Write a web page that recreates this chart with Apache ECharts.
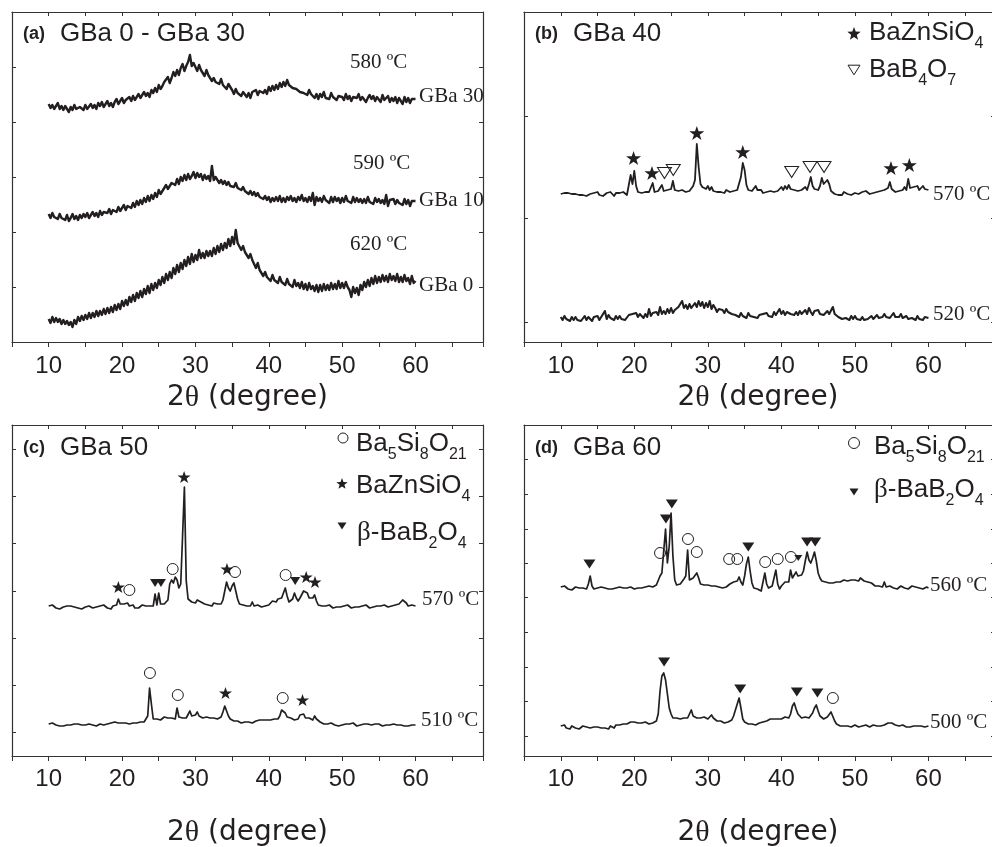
<!DOCTYPE html>
<html>
<head>
<meta charset="utf-8">
<script src="https://cdn.jsdelivr.net/npm/echarts@6.0.0/dist/echarts.min.js"></script>
<style>
  html, body { margin: 0; padding: 0; background: #fff; }
  #root { width: 992px; height: 847px; }
</style>
</head>
<body>
<div id="root"></div>
<script>
// XRD traces. Intensity is in arbitrary units (offset per trace),
// every trace sampled from 10 to 60 deg in steps of 0.25 deg
const thetaStart = 10
const thetaStep = 0.25

// (a) GBa 0 - GBa 30
const gba30 = [
  238,234,237,233, 236,239,233,236, 232,236,234,230, 235,232,237,233, 231,235,236,232,
  237,233,235,238, 234,237,233,239, 236,240,235,238, 241,236,239,235, 240,243,238,241,
  244,239,242,240, 245,241,246,242, 243,248,244,247, 250,246,249,245, 252,249,254,250,
  257,253,256,260, 261,265,259,264, 270,266,272,267, 274,278,271,276, 280,287,276,279,
  275,271,277,272, 270,266,272,267, 266,261,264,260, 262,258,263,257, 257,253,258,255,
  252,248,253,249, 251,246,250,248, 245,249,244,250, 248,252,247,251, 253,249,252,248,
  255,251,256,252, 257,253,259,255, 260,256,262,257, 258,254,256,253, 254,250,252,249,
  251,247,252,248, 247,244,248,243, 248,245,250,244, 246,243,249,245, 247,242,246,244,
  245,242,248,243, 246,241,245,243, 244,248,242,245, 246,240,244,247, 243,246,241,245,
  244,240,247,242, 243,246,240,244, 241,245,239,244, 242,238,245,240, 244,239,243,241,
  243
]
const gba10 = [
  128,124,129,125, 127,123,128,124, 126,122,127,121, 124,128,123,126, 122,127,124,128,
  125,129,124,127, 130,126,129,125, 131,127,130,128, 129,133,128,132, 134,130,135,131,
  133,137,132,136, 138,134,139,135, 141,137,142,138, 144,140,146,141, 147,143,149,145,
  152,148,151,154, 157,153,156,159, 161,157,163,158, 165,161,167,162, 168,163,166,170,
  164,169,165,168, 162,167,163,166, 161,176,162,165, 163,159,162,158, 161,157,160,156,
  158,155,159,154, 156,152,155,151, 152,148,151,147, 150,146,149,145, 147,143,146,142,
  145,140,144,141, 145,141,146,140, 144,140,145,142, 146,141,144,140, 145,142,147,141,
  144,140,145,141, 149,137,145,141, 144,140,146,142, 143,139,145,140, 145,141,144,139,
  144,140,146,141, 143,139,145,140, 144,140,143,139, 143,139,145,140, 142,138,144,140,
  143,139,142,138, 147,136,142,140, 143,138,142,139, 141,137,143,138, 142,136,141,139,
  141
]
const gba0 = [
  23,19,25,20, 24,20,23,18, 22,18,21,17, 20,15,22,18, 25,21,26,22,
  27,23,29,24, 29,25,31,26, 31,27,33,28, 34,29,35,30, 37,32,38,33,
  41,36,42,37, 45,40,47,41, 49,44,51,45, 53,48,56,49, 58,52,59,54,
  62,57,65,59, 68,62,70,64, 74,68,77,70, 79,73,82,76, 85,78,88,80,
  87,82,92,84, 89,84,91,86, 91,86,94,88, 96,90,98,92, 99,94,103,96,
  105,98,112,99, 98,92,96,90, 89,84,88,82, 80,74,79,72, 71,66,70,65,
  66,61,67,62, 64,59,65,60, 62,57,63,58, 60,55,62,56, 59,54,60,53,
  58,52,59,53, 56,51,57,50, 57,51,58,52, 57,52,59,53, 58,53,61,54,
  59,54,60,55, 52,45,55,49, 54,47,57,52, 60,55,62,56, 64,58,66,59,
  65,60,67,61, 66,60,68,62, 66,61,68,60, 65,60,67,61, 64,58,66,59,
  61
]

// (b) GBa 40
const gba40At570 = [
  148,146,149,147, 149,147,148,146, 148,150,147,149, 147,149,146,148, 148,146,149,147,
  150,147,148,146, 148,149,147,150, 148,146,149,147, 149,147,150,148, 147,149,167,158,
  171,156,150,148, 149,147,150,148, 150,152,159,150, 149,151,153,157, 151,150,152,150,
  153,161,152,150, 151,149,152,150, 150,152,151,150, 156,162,198,175, 158,155,157,153,
  156,152,155,151, 153,150,152,150, 151,149,152,150, 150,152,151,153, 152,154,165,179,
  172,157,152,154, 151,153,156,152, 150,152,149,151, 150,148,151,149, 150,152,151,153,
  155,152,156,153, 157,153,155,152, 154,151,153,152, 153,155,152,158, 165,156,153,155,
  152,156,164,158, 156,162,158,151, 150,148,149,147, 149,147,150,148, 148,150,147,149,
  149,151,148,150, 150,148,151,149, 148,150,149,151, 150,148,151,150, 152,150,154,160,
  153,151,150,152, 151,153,152,155, 152,163,154,152, 155,153,156,152, 154,156,153,155,
  152
]
const gba40At520 = [
  25,22,26,23, 24,21,25,22, 25,22,24,21, 23,26,22,25, 24,21,25,23,
  26,22,25,24, 31,23,27,24, 25,22,26,23, 26,23,25,22, 24,27,25,28,
  26,29,25,28, 27,24,28,25, 33,26,29,27, 30,27,35,28, 31,28,33,29,
  34,29,32,30, 35,33,41,34, 37,33,38,34, 36,39,35,41, 36,40,34,39,
  35,41,33,37, 34,30,33,31, 32,29,33,30, 31,28,30,27, 28,25,29,26,
  27,24,29,26, 28,25,27,24, 27,25,28,26, 29,26,28,25, 30,27,29,33,
  28,31,27,30, 32,28,29,27, 30,27,31,28, 29,32,28,34, 30,27,31,29,
  32,28,30,27, 29,31,28,30, 35,28,27,25, 26,23,25,24, 25,22,26,23,
  26,23,25,22, 25,22,24,23, 24,26,23,25, 27,24,26,25, 28,25,27,24,
  26,29,25,27, 25,28,24,26, 26,23,25,24, 25,22,26,23, 24,22,25,23,
  24
]

// (c) GBa 50
const gba50At570 = [
  150,148,151,149, 148,150,147,149, 149,147,150,148, 150,148,149,151, 148,150,147,149,
  149,147,150,148, 148,150,149,147, 150,148,151,149, 148,150,147,150, 149,151,157,152,
  150,152,151,153, 150,149,151,148, 150,148,149,151, 149,150,148,150, 151,150,162,151,
  163,152,153,152, 153,156,172,176, 173,179,176,168, 172,220,269,175, 157,156,154,155,
  153,156,157,154, 155,152,153,151, 152,150,153,151, 152,151,152,156, 165,174,168,165,
  170,173,165,157, 152,150,151,149, 150,151,150,154, 150,149,151,150, 149,151,150,152,
  151,153,155,156, 154,157,156,158, 163,168,160,154, 155,157,163,158, 155,158,160,165,
  167,163,158,156, 158,161,155,151, 149,150,148,150, 149,151,150,148, 150,149,151,149,
  148,150,149,151, 150,148,150,149, 151,149,148,150, 149,151,150,148, 150,149,151,150,
  148,150,149,151, 150,149,151,150, 149,151,150,152, 154,156,155,153, 150,149,151,149,
  150
]
const gba50At510 = [
  32,30,33,31, 31,33,30,32, 30,32,31,29, 31,30,32,30, 32,30,31,33,
  31,29,32,30, 31,33,30,32, 32,30,31,33, 32,31,33,32, 34,35,33,32,
  33,31,33,32, 32,34,33,31, 33,32,34,35, 34,36,40,68, 52,37,36,37,
  38,36,37,39, 37,38,36,38, 38,37,48,39, 39,38,40,38, 39,45,40,39,
  41,44,40,39, 38,37,39,37, 38,36,38,37, 37,38,39,44, 50,48,40,37,
  36,35,34,35, 34,33,35,34, 33,34,35,33, 34,35,34,36, 35,36,37,36,
  37,36,38,37, 38,37,40,46, 47,43,39,37, 38,37,36,38, 37,41,43,42,
  38,37,38,37, 36,40,37,35, 34,33,32,33, 32,31,33,32, 31,32,30,32,
  31,33,32,30, 32,31,33,31, 30,32,31,33, 32,30,32,31, 31,33,32,30,
  32,31,30,32, 31,33,31,30, 32,30,31,33, 31,32,30,31, 30,32,31,30,
  31
]

// (d) GBa 60
const gba60At560 = [
  169,167,170,168, 167,169,166,168, 169,167,168,166, 168,170,167,172, 180,170,167,169,
  168,166,169,167, 168,170,167,169, 167,169,168,166, 169,167,168,170, 168,166,169,167,
  167,169,168,170, 168,167,169,168, 170,168,169,171, 171,173,180,183, 205,227,193,210,
  243,200,176,171, 170,172,174,177, 180,206,176,175, 178,180,183,178, 172,170,171,169,
  171,169,170,172, 170,168,169,167, 168,170,169,171, 172,171,174,176, 175,179,174,171,
  180,192,199,185, 173,168,166,167, 166,165,167,183, 172,168,169,170, 169,186,172,167,
  170,172,174,173, 174,186,178,181, 184,180,178,181, 185,195,204,196, 193,198,204,195,
  183,178,175,173, 174,172,173,175, 173,172,174,173, 174,175,176,177, 175,177,176,178,
  176,177,175,178, 177,175,176,174, 175,173,171,170, 169,170,168,169, 174,169,168,170,
  169,168,170,167, 168,170,169,168, 169,167,168,170, 168,169,167,168, 169,167,168,169,
  168
]
const gba60At500 = [
  30,29,31,28, 29,27,30,28, 28,29,27,29, 30,28,29,27, 28,30,29,28,
  29,27,28,30, 28,29,27,30, 30,28,31,29, 31,30,32,33, 32,33,34,35,
  34,35,33,32, 33,32,34,33, 32,34,33,34, 35,42,65,80, 83,76,62,48,
  42,38,37,38, 38,37,39,38, 39,38,42,46, 40,39,38,39, 38,37,39,38,
  37,39,41,38, 36,35,34,35, 34,33,35,34, 34,36,40,46, 52,58,48,37,
  34,33,32,33, 32,33,31,32, 33,32,34,33, 35,36,37,36, 37,38,37,36,
  37,38,39,37, 38,42,50,53, 47,42,40,38, 38,39,37,38, 39,43,48,51,
  45,40,38,37, 38,39,40,44, 46,35,32,31, 30,31,30,29, 30,31,29,30,
  31,30,29,30, 30,29,31,30, 29,30,31,30, 30,31,30,32, 31,32,33,32,
  33,32,31,30, 30,29,31,30, 29,30,29,31, 30,29,30,29, 30,31,29,30,
  30
]

// phase markers: [2theta, height]
const bStar570 = [[19.9, 184], [22.4, 169], [28.5, 209], [34.75, 190], [54.9, 174], [57.4, 177]]
const bOpenTri570 = [[24.1, 169], [25.3, 172], [41.4, 170], [43.9, 175], [45.8, 175]]
const cCircle570 = [[21.0, 166], [26.9, 187], [35.4, 184], [42.3, 181]]
const cStar570 = [[19.5, 169], [28.46, 279], [34.3, 187], [45.1, 179], [46.3, 174]]
const cTri570 = [[24.5, 173], [25.3, 173], [43.6, 175]]
const cCircle510 = [[23.8, 83], [27.6, 61], [41.9, 58]]
const cStar510 = [[34.1, 63], [44.6, 56]]
const dTri560 = [[13.9, 192], [24.3, 237], [25.1, 252], [35.5, 209], [43.5, 214], [44.6, 214]]
const dTriSmall560 = [[42.3, 198]]
const dCircle560 = [[23.5, 203], [27.3, 217], [28.5, 204], [32.9, 197], [34.0, 197], [37.8, 194], [39.5, 197], [41.3, 199]]
const dTri500 = [[24.05, 94], [34.4, 67], [42.1, 64], [44.9, 63]]
const dCircle500 = [[47.0, 58]]

const INK = '#231f20'
const FRAME = '#333'
const SANS = '"Liberation Sans", Arial, sans-serif'
const SERIF = '"Liberation Serif", "Times New Roman", serif'
const STAR = 'path://M50,0L61.8,35.1L98.9,35.1L68.9,56.7L80.3,91.9L50,70.3L19.7,91.9L31.1,56.7L1.1,35.1L38.2,35.1Z'
const DOWN = 'path://M0,0L20,0L10,16Z'

const toPairs = vals => vals.map((v, i) => [thetaStart + i * thetaStep, v])

const chart = echarts.init(document.getElementById('root'), null, { renderer: 'canvas' })

const grids = [
  { left: 12, top: 12, width: 471, height: 330, outerBoundsMode: 'none', containLabel: false },
  { left: 524, top: 12, width: 471, height: 330, outerBoundsMode: 'none', containLabel: false },
  { left: 12, top: 425, width: 471, height: 331, outerBoundsMode: 'none', containLabel: false },
  { left: 524, top: 425, width: 471, height: 331, outerBoundsMode: 'none', containLabel: false }
]

function xAxes (g, max, margin) {
  const line = { onZero: false, lineStyle: { color: FRAME, width: 1.2 } }
  return [
    {
      gridIndex: g, type: 'value', position: 'bottom', min: 5, max: max, interval: 5,
      axisLine: line,
      axisTick: { inside: false, length: 5, lineStyle: { color: FRAME } },
      axisLabel: {
        interval: 0, margin: margin, fontSize: 24, fontFamily: SANS, color: INK,
        formatter: v => (v % 10 === 0 && v <= 60) ? String(v) : ''
      },
      splitLine: { show: false }
    },
    {
      gridIndex: g, type: 'value', position: 'top', min: 5, max: max, interval: 5,
      axisLine: line,
      axisTick: { inside: true, length: 4, lineStyle: { color: FRAME } },
      axisLabel: { show: false },
      splitLine: { show: false }
    }
  ]
}

function yAxes (g, max, ticks) {
  const base = {
    gridIndex: g, type: 'value', min: 0, max: max,
    axisLine: { show: true, onZero: false, lineStyle: { color: FRAME, width: 1.2 } },
    axisTick: { show: true, inside: true, length: 4, customValues: ticks, lineStyle: { color: FRAME } },
    axisLabel: { show: false },
    splitLine: { show: false }
  }
  return [Object.assign({ position: 'left' }, base), Object.assign({ position: 'right' }, base)]
}

function trace (g, vals, width) {
  return {
    type: 'line', xAxisIndex: 2 * g, yAxisIndex: 2 * g, data: toPairs(vals),
    showSymbol: false, silent: true, animation: false,
    lineStyle: { color: INK, width: width, join: 'round' }, z: 2
  }
}

function marks (g, pts, symbol, size, open) {
  return {
    type: 'scatter', xAxisIndex: 2 * g, yAxisIndex: 2 * g, data: pts,
    symbol: symbol, symbolSize: size, silent: true, animation: false, z: 3,
    itemStyle: open
      ? { color: 'transparent', borderColor: INK, borderWidth: 1, opacity: 1 }
      : { color: INK, opacity: 1 }
  }
}

// text helpers (pieces placed side by side, for sub-scripts)
const measure = document.createElement('canvas').getContext('2d')
function textWidth (t, font) {
  measure.font = font
  return measure.measureText(t).width
}
function label (t, font, x, y, align) {
  return {
    type: 'text', x: x, y: y, silent: true,
    style: { text: t, font: font, fill: INK, textAlign: align || 'left', textVerticalAlign: 'middle' }
  }
}
function row (parts, x, y, center) {
  let cx = x
  if (center) cx = x - parts.reduce((s, p) => s + textWidth(p[0], p[1]), 0) / 2
  return parts.map(p => {
    const el = label(p[0], p[1], cx, y + (p[2] || 0))
    cx += textWidth(p[0], p[1])
    return el
  })
}

const big = '26px ' + SANS
const sub = '16px ' + SANS
const beta = '27px ' + SERIF
const tag = 'bold 18px ' + SANS
const temp = '21px ' + SERIF
const axisFont = '28px "DejaVu Sans", sans-serif'
const thetaFont = '30px ' + SERIF
const SUB = 11

const ba5 = [['Ba', big], ['5', sub, SUB], ['Si', big], ['8', sub, SUB], ['O', big], ['21', sub, SUB]]
const bazn = [['BaZnSiO', big], ['4', sub, SUB]]
const bab2 = [['β', beta], ['-BaB', big], ['2', sub, SUB], ['O', big], ['4', sub, SUB]]
const bab4 = [['BaB', big], ['4', sub, SUB], ['O', big], ['7', sub, SUB]]
const axisTitle = [['2', axisFont], ['θ', thetaFont], [' (degree)', axisFont]]

// legend glyphs
function starShape (cx, cy, r) {
  const pts = []
  for (let i = 0; i < 10; i++) {
    const a = -Math.PI / 2 + i * Math.PI / 5
    const rr = i % 2 === 0 ? r : r * 0.42
    pts.push([cx + rr * Math.cos(a), cy + rr * Math.sin(a)])
  }
  return { type: 'polygon', silent: true, shape: { points: pts }, style: { fill: INK } }
}
function triShape (cx, cy, w, open) {
  const h = w * 0.8
  return {
    type: 'polygon', silent: true,
    shape: { points: [[cx - w / 2, cy - h / 2], [cx + w / 2, cy - h / 2], [cx, cy + h / 2]] },
    style: open ? { fill: 'none', stroke: INK, lineWidth: 1 } : { fill: INK }
  }
}
function ring (cx, cy, r) {
  return { type: 'circle', silent: true, shape: { cx: cx, cy: cy, r: r }, style: { fill: 'none', stroke: INK, lineWidth: 1 } }
}

const graphics = [].concat(
  // panel tags
  [label('(a)', tag, 23, 34), label('GBa 0 - GBa 30', big, 60, 34)],
  [label('(b)', tag, 535, 34), label('GBa 40', big, 573, 34)],
  [label('(c)', tag, 23, 448), label('GBa 50', big, 60, 448)],
  [label('(d)', tag, 535, 448), label('GBa 60', big, 573, 448)],
  // trace annotations
  [label('580 ºC', temp, 350, 62), label('GBa 30', temp, 419, 96),
    label('590 ºC', temp, 353, 163), label('GBa 10', temp, 419, 200),
    label('620 ºC', temp, 350, 244), label('GBa 0', temp, 419, 285)],
  [label('570 ºC', temp, 933, 194), label('520 ºC', temp, 933, 314)],
  [label('570 ºC', temp, 422, 599), label('510 ºC', temp, 421, 720)],
  [label('560 ºC', temp, 930, 585), label('500 ºC', temp, 930, 722)],
  // legends
  [starShape(854, 34, 7), triShape(854, 70, 12, true)],
  row(bazn, 869, 33), row(bab4, 869, 70),
  [ring(343, 438, 5), starShape(342, 484, 6), triShape(342, 526, 9, false)],
  row(ba5, 356, 444), row(bazn, 356, 486), row(bab2, 357, 533),
  [ring(854, 443, 5.5), triShape(854, 492, 9, false)],
  row(ba5, 874, 447), row(bab2, 874, 490),
  // axis titles
  row(axisTitle, 247.5, 398, true), row(axisTitle, 758, 398, true),
  row(axisTitle, 247.5, 833, true), row(axisTitle, 758, 833, true)
)

const option = {
  animation: false,
  backgroundColor: '#fff',
  grid: grids,
  xAxis: [].concat(xAxes(0, 69.2, 12), xAxes(1, 69.05, 12), xAxes(2, 69.2, 11), xAxes(3, 69.05, 11)),
  yAxis: [].concat(
    yAxes(0, 330, [55, 110, 165, 220, 275]),
    yAxes(1, 330, [20, 124, 226]),
    yAxes(2, 331, [24, 71, 118, 165, 213, 260, 307]),
    yAxes(3, 331, [20, 55, 89, 124, 159, 193, 227, 262, 297])
  ),
  series: [
    trace(0, gba30, 2.4), trace(0, gba10, 2.4), trace(0, gba0, 2.4),
    trace(1, gba40At570, 1.8), trace(1, gba40At520, 2.1),
    trace(2, gba50At570, 1.7), trace(2, gba50At510, 1.7),
    trace(3, gba60At560, 1.7), trace(3, gba60At500, 1.7),
    marks(1, bStar570, STAR, [15, 14], false),
    marks(1, bOpenTri570, DOWN, [14, 11], true),
    marks(2, cCircle570, 'circle', 11, true),
    marks(2, cStar570, STAR, [13, 12], false),
    marks(2, cTri570, DOWN, [10, 8], false),
    marks(2, cCircle510, 'circle', 11, true),
    marks(2, cStar510, STAR, [13, 12], false),
    marks(3, dTri560, DOWN, [12, 9], false),
    marks(3, dTriSmall560, DOWN, [8, 6], false),
    marks(3, dCircle560, 'circle', 11, true),
    marks(3, dTri500, DOWN, [12, 9], false),
    marks(3, dCircle500, 'circle', 11, true)
  ],
  graphic: { elements: graphics }
}

chart.setOption(option)
</script>
</body>
</html>
